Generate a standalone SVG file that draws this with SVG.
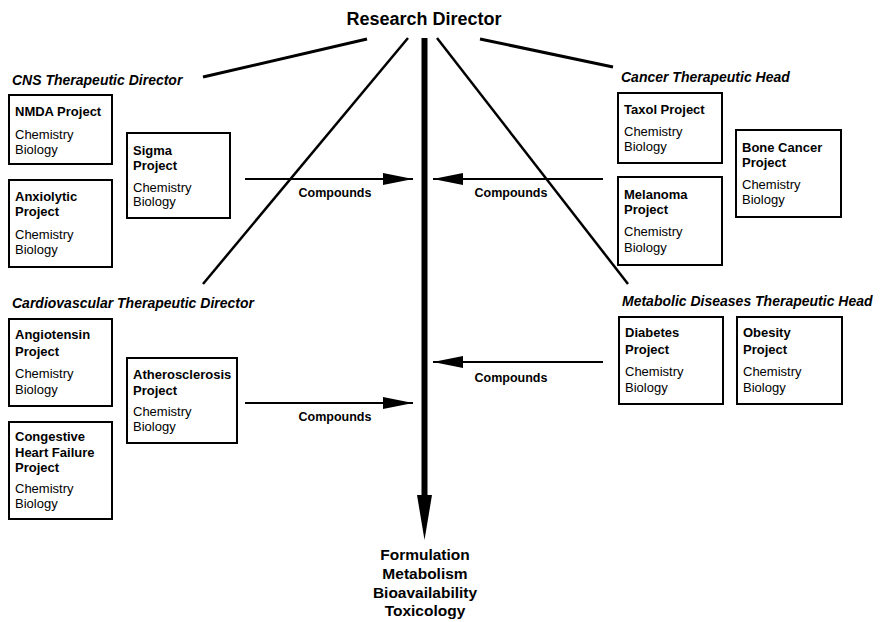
<svg xmlns="http://www.w3.org/2000/svg" width="883" height="622" viewBox="0 0 883 622">
<style>
text{font-family:"Liberation Sans",Arial,sans-serif;fill:#000}
.t{font-size:13px;font-weight:bold}
.s{font-size:13px}
.h{font-size:14px;font-weight:bold;font-style:italic}
.c{font-size:12.5px;font-weight:bold;text-anchor:middle}
.box{fill:#fff;stroke:#000;stroke-width:2}
.ln{stroke:#000;fill:none}
</style>
<defs>
<marker id="ah" viewBox="0 0 30 12" refX="30" refY="6" markerWidth="30" markerHeight="12" markerUnits="userSpaceOnUse" orient="auto">
<path d="M0,0 L30,6 L0,12 Z" fill="#000"/>
</marker>
</defs>
<g id="research-director"><text x="424" y="25" style="font-size:18px;font-weight:bold" text-anchor="middle">Research Director</text></g>
<g id="connectors">
<line class="ln" x1="367" y1="39" x2="203" y2="77" stroke-width="3"/>
<line class="ln" x1="408" y1="38" x2="203" y2="284" stroke-width="2.5"/>
<line class="ln" x1="437" y1="38" x2="628" y2="284" stroke-width="2.5"/>
<line class="ln" x1="480" y1="39" x2="613" y2="67" stroke-width="3"/>
<line class="ln" x1="424.5" y1="38" x2="424.5" y2="497" stroke-width="6"/>
<path d="M417,495 L432,495 L424.5,540 Z" fill="#000"/>
<line class="ln" x1="245" y1="179" x2="413" y2="179" stroke-width="2" marker-end="url(#ah)"/>
<line class="ln" x1="603" y1="179" x2="433" y2="179" stroke-width="2" marker-end="url(#ah)"/>
<line class="ln" x1="245" y1="403" x2="413" y2="403" stroke-width="2" marker-end="url(#ah)"/>
<line class="ln" x1="603" y1="362" x2="433" y2="362" stroke-width="2" marker-end="url(#ah)"/>
<text class="c" x="335" y="197">Compounds</text>
<text class="c" x="511" y="197">Compounds</text>
<text class="c" x="335" y="421">Compounds</text>
<text class="c" x="511" y="382">Compounds</text>
</g>
<g id="cns-head"><text class="h" x="12" y="85">CNS Therapeutic Director</text></g>
<g id="cancer-head"><text class="h" x="621" y="82">Cancer Therapeutic Head</text></g>
<g id="cardio-head"><text class="h" x="12" y="308">Cardiovascular Therapeutic Director</text></g>
<g id="metabolic-head"><text class="h" x="622" y="306">Metabolic Diseases Therapeutic Head</text></g>
<g id="nmda">
<rect class="box" x="9" y="95" width="103" height="69"/>
<text class="t" x="15" y="116">NMDA Project</text>
<text class="s" x="15" y="139">Chemistry</text>
<text class="s" x="15" y="154">Biology</text>
</g>
<g id="anxiolytic">
<rect class="box" x="9" y="180" width="103" height="87"/>
<text class="t" x="15" y="201">Anxiolytic</text>
<text class="t" x="15" y="216">Project</text>
<text class="s" x="15" y="239">Chemistry</text>
<text class="s" x="15" y="254">Biology</text>
</g>
<g id="sigma">
<rect class="box" x="127" y="133" width="103" height="85"/>
<text class="t" x="133" y="155">Sigma</text>
<text class="t" x="133" y="170">Project</text>
<text class="s" x="133" y="192">Chemistry</text>
<text class="s" x="133" y="206">Biology</text>
</g>
<g id="taxol">
<rect class="box" x="618" y="93" width="104" height="70"/>
<text class="t" x="624" y="114">Taxol Project</text>
<text class="s" x="624" y="136">Chemistry</text>
<text class="s" x="624" y="151">Biology</text>
</g>
<g id="bone-cancer">
<rect class="box" x="736" y="130" width="105" height="87"/>
<text class="t" x="742" y="152">Bone Cancer</text>
<text class="t" x="742" y="167">Project</text>
<text class="s" x="742" y="189">Chemistry</text>
<text class="s" x="742" y="204">Biology</text>
</g>
<g id="melanoma">
<rect class="box" x="618" y="177" width="104" height="88"/>
<text class="t" x="624" y="199">Melanoma</text>
<text class="t" x="624" y="214">Project</text>
<text class="s" x="624" y="236">Chemistry</text>
<text class="s" x="624" y="252">Biology</text>
</g>
<g id="angiotensin">
<rect class="box" x="9" y="319" width="103" height="87"/>
<text class="t" x="15" y="339">Angiotensin</text>
<text class="t" x="15" y="356">Project</text>
<text class="s" x="15" y="378">Chemistry</text>
<text class="s" x="15" y="394">Biology</text>
</g>
<g id="congestive">
<rect class="box" x="9" y="422" width="103" height="97"/>
<text class="t" x="15" y="441">Congestive</text>
<text class="t" x="15" y="457">Heart Failure</text>
<text class="t" x="15" y="472">Project</text>
<text class="s" x="15" y="493">Chemistry</text>
<text class="s" x="15" y="508">Biology</text>
</g>
<g id="atherosclerosis">
<rect class="box" x="127" y="358" width="110" height="85"/>
<text class="t" x="133" y="379">Atherosclerosis</text>
<text class="t" x="133" y="395">Project</text>
<text class="s" x="133" y="416">Chemistry</text>
<text class="s" x="133" y="431">Biology</text>
</g>
<g id="diabetes">
<rect class="box" x="619" y="317" width="104" height="87"/>
<text class="t" x="625" y="337">Diabetes</text>
<text class="t" x="625" y="354">Project</text>
<text class="s" x="625" y="376">Chemistry</text>
<text class="s" x="625" y="392">Biology</text>
</g>
<g id="obesity">
<rect class="box" x="737" y="317" width="105" height="87"/>
<text class="t" x="743" y="337">Obesity</text>
<text class="t" x="743" y="354">Project</text>
<text class="s" x="743" y="376">Chemistry</text>
<text class="s" x="743" y="392">Biology</text>
</g>
<g id="development" style="font-size:15.5px;font-weight:bold" text-anchor="middle">
<text x="425" y="560">Formulation</text>
<text x="425" y="579">Metabolism</text>
<text x="425" y="598">Bioavailability</text>
<text x="425" y="616">Toxicology</text>
</g>
</svg>
